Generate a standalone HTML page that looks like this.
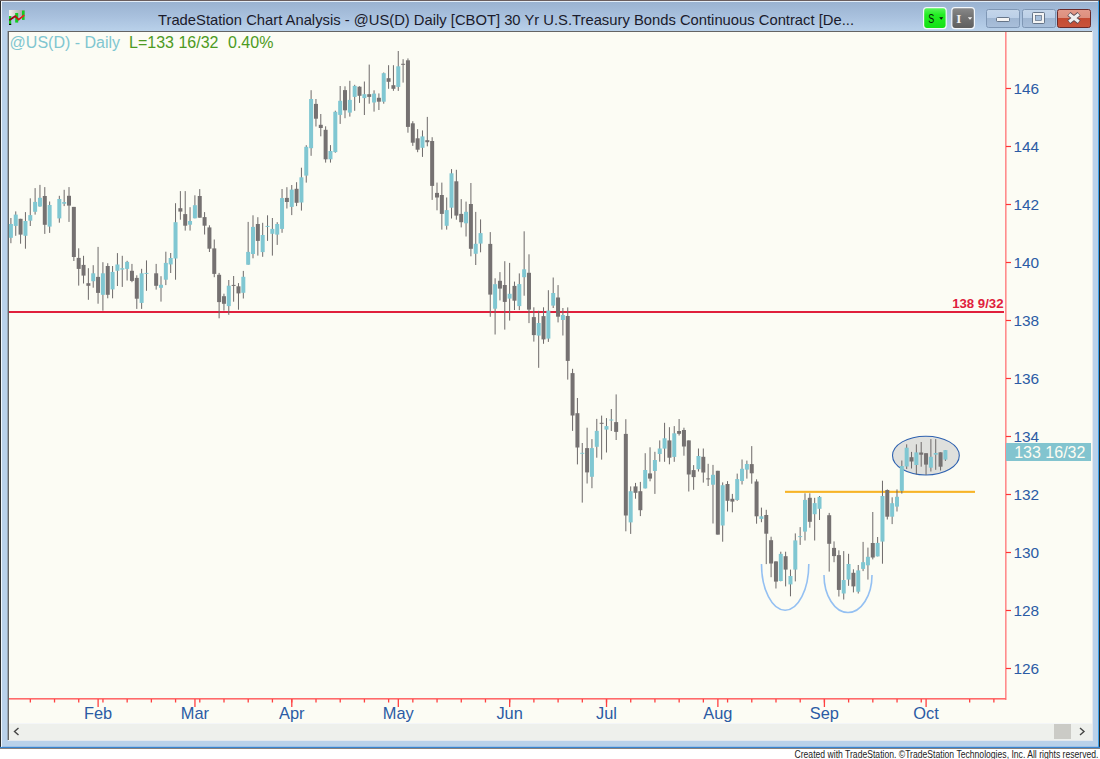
<!DOCTYPE html>
<html><head><meta charset="utf-8"><title>TradeStation Chart</title>
<style>
html,body{margin:0;padding:0;background:#fff;overflow:hidden;}
body{width:1100px;height:759px;font-family:"Liberation Sans", sans-serif;}
svg{display:block;}
</style></head>
<body>
<svg width="1100" height="759" viewBox="0 0 1100 759">
<rect x="0" y="0" width="1100" height="759" fill="#ffffff"/>
<defs><linearGradient id="tb" x1="0" y1="0" x2="0" y2="1"><stop offset="0" stop-color="#98b1cf"/><stop offset="0.55" stop-color="#a9c1de"/><stop offset="1" stop-color="#b9d1ea"/></linearGradient><linearGradient id="cl" x1="0" y1="0" x2="0" y2="1"><stop offset="0" stop-color="#e39a8a"/><stop offset="0.45" stop-color="#dd8f7e"/><stop offset="0.46" stop-color="#c44a32"/><stop offset="1" stop-color="#c8543b"/></linearGradient><linearGradient id="bt" x1="0" y1="0" x2="0" y2="1"><stop offset="0" stop-color="#c5d6ea"/><stop offset="0.45" stop-color="#bcd0e8"/><stop offset="0.46" stop-color="#9fb6d2"/><stop offset="1" stop-color="#a9bfda"/></linearGradient></defs>
<rect x="0" y="0" width="1100" height="748" fill="#b9d1ea"/>
<rect x="0" y="0" width="1100" height="31" fill="url(#tb)"/>
<rect x="0" y="0" width="1" height="748" fill="#2b2b2b"/>
<rect x="0" y="0" width="1100" height="1" fill="#6a5e5e"/>
<rect x="1" y="1" width="1097" height="1" fill="#e4eef8"/>
<rect x="1098" y="1" width="1" height="747" fill="#3ca0e8"/>
<rect x="1099" y="0" width="1" height="748" fill="#2b2b2b"/>
<rect x="0" y="746.8" width="1100" height="1.2" fill="#3784d0"/>
<rect x="0" y="748" width="1100" height="0.8" fill="#6a6260"/>
<rect x="1" y="1" width="1" height="746" fill="#eef5fc"/>
<linearGradient id="ig1" x1="0" y1="0" x2="1" y2="0"><stop offset="0" stop-color="#f2f2ee"/><stop offset="1" stop-color="#9c9c9c"/></linearGradient>
<linearGradient id="rl" x1="0" y1="0" x2="1" y2="0"><stop offset="0" stop-color="#7a0a0a"/><stop offset="0.5" stop-color="#c01010"/><stop offset="1" stop-color="#ff2020"/></linearGradient>
<g><rect x="9" y="10" width="15.6" height="6" fill="url(#ig1)"/><rect x="9" y="16" width="2.2" height="8.5" fill="#12cc22"/><rect x="15.2" y="13" width="3" height="9.6" fill="#12cc22"/><rect x="22" y="10.6" width="2.6" height="9.3" fill="#12cc22"/><polyline points="9.3,20.2 15.2,16.2 18.6,19.6 24.3,15.2" fill="none" stroke="url(#rl)" stroke-width="1.7"/><rect x="9" y="23.8" width="2.2" height="1.2" fill="#0a0a0a"/></g>
<text x="158" y="24.5" font-family="Liberation Sans, sans-serif" font-size="14.6" fill="#1b1b2b" textLength="696" lengthAdjust="spacingAndGlyphs">TradeStation Chart Analysis - @US(D) Daily [CBOT] 30 Yr U.S.Treasury Bonds Continuous Contract [De...</text>
<linearGradient id="sg" x1="0" y1="0" x2="0" y2="1"><stop offset="0" stop-color="#5ef55e"/><stop offset="0.35" stop-color="#22ee22"/><stop offset="1" stop-color="#14e014"/></linearGradient>
<linearGradient id="ig" x1="0" y1="0" x2="0" y2="1"><stop offset="0" stop-color="#8a8a8a"/><stop offset="0.4" stop-color="#747474"/><stop offset="1" stop-color="#5e5e5e"/></linearGradient>
<rect x="923.6" y="7.6" width="22.6" height="21" rx="3" fill="url(#sg)" stroke="#f4f8fc" stroke-width="1.2"/>
<text x="928.3" y="23.2" font-family="Liberation Sans, sans-serif" font-size="12.5" fill="#061806" textLength="6" lengthAdjust="spacingAndGlyphs">S</text>
<path d="M939.2 17.3 l4 0 l-2 2.4z" fill="#061806"/>
<rect x="951.8" y="7.6" width="22.6" height="21" rx="3" fill="url(#ig)" stroke="#f4f8fc" stroke-width="1.2"/>
<text x="956.3" y="22.8" font-family="Liberation Serif, serif" font-size="13" font-weight="bold" fill="#f2f2f2">I</text>
<path d="M967.8 17.3 l4.4 0 l-2.2 2.4z" fill="#f2f2f2"/>
<rect x="986.5" y="9.5" width="33" height="18" rx="2" fill="url(#bt)" stroke="#7f97b5" stroke-width="1"/>
<rect x="996.5" y="17.5" width="13" height="4" rx="1" fill="#f4f4f4" stroke="#4a5a70" stroke-width="0.8"/>
<rect x="1022.5" y="9.5" width="33" height="18" rx="2" fill="url(#bt)" stroke="#7f97b5" stroke-width="1"/>
<rect x="1032.5" y="12.5" width="12" height="11" rx="1" fill="#f4f4f4" stroke="#4a5a70" stroke-width="0.8"/>
<rect x="1035.5" y="15.5" width="6" height="5" fill="#a8c0dc" stroke="#4a5a70" stroke-width="0.6"/>
<rect x="1057.5" y="9.5" width="33" height="18" rx="2" fill="url(#cl)" stroke="#6a2a2a" stroke-width="1"/>
<path d="M1068.9 13.9 L1079.1 22.1 M1079.1 13.9 L1068.9 22.1" stroke="#5a4a52" stroke-width="5.0" stroke-linecap="butt"/>
<path d="M1069.2 14.2 L1078.8 21.8 M1078.8 14.2 L1069.2 21.8" stroke="#f0f0f0" stroke-width="3.2" stroke-linecap="butt"/>
<rect x="8" y="31" width="1085" height="710" fill="#e4e8ee"/>
<rect x="7.6" y="31" width="1084.4" height="709" fill="#646464"/>
<rect x="9" y="32" width="1083" height="708" fill="#fcfcf4"/>
<rect x="9" y="723" width="1083" height="17" fill="#eef0ec"/>
<rect x="9" y="723" width="1083" height="1" fill="#f4f6f8"/>
<rect x="1054" y="724" width="17" height="15" fill="#cbcbc6"/>
<path d="M18.5 728 L14.5 731.5 L18.5 735" fill="none" stroke="#444" stroke-width="1.4"/>
<path d="M1080 728 L1084 731.5 L1080 735" fill="none" stroke="#444" stroke-width="1.4"/>
<rect x="1005" y="32" width="1.6" height="668" fill="#ff8c8c"/>
<rect x="9" y="698" width="997" height="1.6" fill="#ff6a6a"/>
<rect x="1006" y="667.90" width="5" height="1.2" fill="#f33"/>
<text x="1013.4" y="674.00" font-family="Liberation Sans, sans-serif" font-size="15.4" fill="#2b5ba4">126</text>
<rect x="1006" y="609.90" width="5" height="1.2" fill="#f33"/>
<text x="1013.4" y="616.00" font-family="Liberation Sans, sans-serif" font-size="15.4" fill="#2b5ba4">128</text>
<rect x="1006" y="551.90" width="5" height="1.2" fill="#f33"/>
<text x="1013.4" y="558.00" font-family="Liberation Sans, sans-serif" font-size="15.4" fill="#2b5ba4">130</text>
<rect x="1006" y="493.90" width="5" height="1.2" fill="#f33"/>
<text x="1013.4" y="500.00" font-family="Liberation Sans, sans-serif" font-size="15.4" fill="#2b5ba4">132</text>
<rect x="1006" y="435.90" width="5" height="1.2" fill="#f33"/>
<text x="1013.4" y="442.00" font-family="Liberation Sans, sans-serif" font-size="15.4" fill="#2b5ba4">134</text>
<rect x="1006" y="377.90" width="5" height="1.2" fill="#f33"/>
<text x="1013.4" y="384.00" font-family="Liberation Sans, sans-serif" font-size="15.4" fill="#2b5ba4">136</text>
<rect x="1006" y="319.90" width="5" height="1.2" fill="#f33"/>
<text x="1013.4" y="326.00" font-family="Liberation Sans, sans-serif" font-size="15.4" fill="#2b5ba4">138</text>
<rect x="1006" y="261.90" width="5" height="1.2" fill="#f33"/>
<text x="1013.4" y="268.00" font-family="Liberation Sans, sans-serif" font-size="15.4" fill="#2b5ba4">140</text>
<rect x="1006" y="203.90" width="5" height="1.2" fill="#f33"/>
<text x="1013.4" y="210.00" font-family="Liberation Sans, sans-serif" font-size="15.4" fill="#2b5ba4">142</text>
<rect x="1006" y="145.90" width="5" height="1.2" fill="#f33"/>
<text x="1013.4" y="152.00" font-family="Liberation Sans, sans-serif" font-size="15.4" fill="#2b5ba4">144</text>
<rect x="1006" y="87.90" width="5" height="1.2" fill="#f33"/>
<text x="1013.4" y="94.00" font-family="Liberation Sans, sans-serif" font-size="15.4" fill="#2b5ba4">146</text>
<rect x="29.67" y="699" width="1.3" height="3.5" fill="#ff4040"/>
<rect x="53.88" y="699" width="1.3" height="3.5" fill="#ff4040"/>
<rect x="78.09" y="699" width="1.3" height="3.5" fill="#ff4040"/>
<rect x="97.46" y="699" width="1.3" height="8" fill="#ff4040"/>
<rect x="102.30" y="699" width="1.3" height="3.5" fill="#ff4040"/>
<rect x="126.51" y="699" width="1.3" height="3.5" fill="#ff4040"/>
<rect x="150.72" y="699" width="1.3" height="3.5" fill="#ff4040"/>
<rect x="174.93" y="699" width="1.3" height="3.5" fill="#ff4040"/>
<rect x="194.30" y="699" width="1.3" height="8" fill="#ff4040"/>
<rect x="199.14" y="699" width="1.3" height="3.5" fill="#ff4040"/>
<rect x="223.35" y="699" width="1.3" height="3.5" fill="#ff4040"/>
<rect x="247.56" y="699" width="1.3" height="3.5" fill="#ff4040"/>
<rect x="271.77" y="699" width="1.3" height="3.5" fill="#ff4040"/>
<rect x="291.14" y="699" width="1.3" height="8" fill="#ff4040"/>
<rect x="291.14" y="699" width="1.3" height="3.5" fill="#ff4040"/>
<rect x="315.35" y="699" width="1.3" height="3.5" fill="#ff4040"/>
<rect x="339.56" y="699" width="1.3" height="3.5" fill="#ff4040"/>
<rect x="363.77" y="699" width="1.3" height="3.5" fill="#ff4040"/>
<rect x="387.98" y="699" width="1.3" height="3.5" fill="#ff4040"/>
<rect x="397.66" y="699" width="1.3" height="8" fill="#ff4040"/>
<rect x="412.19" y="699" width="1.3" height="3.5" fill="#ff4040"/>
<rect x="436.40" y="699" width="1.3" height="3.5" fill="#ff4040"/>
<rect x="460.61" y="699" width="1.3" height="3.5" fill="#ff4040"/>
<rect x="484.82" y="699" width="1.3" height="3.5" fill="#ff4040"/>
<rect x="509.03" y="699" width="1.3" height="8" fill="#ff4040"/>
<rect x="509.03" y="699" width="1.3" height="3.5" fill="#ff4040"/>
<rect x="533.24" y="699" width="1.3" height="3.5" fill="#ff4040"/>
<rect x="557.45" y="699" width="1.3" height="3.5" fill="#ff4040"/>
<rect x="581.66" y="699" width="1.3" height="3.5" fill="#ff4040"/>
<rect x="605.87" y="699" width="1.3" height="8" fill="#ff4040"/>
<rect x="605.87" y="699" width="1.3" height="3.5" fill="#ff4040"/>
<rect x="630.08" y="699" width="1.3" height="3.5" fill="#ff4040"/>
<rect x="654.29" y="699" width="1.3" height="3.5" fill="#ff4040"/>
<rect x="678.50" y="699" width="1.3" height="3.5" fill="#ff4040"/>
<rect x="702.71" y="699" width="1.3" height="3.5" fill="#ff4040"/>
<rect x="717.23" y="699" width="1.3" height="8" fill="#ff4040"/>
<rect x="726.92" y="699" width="1.3" height="3.5" fill="#ff4040"/>
<rect x="751.13" y="699" width="1.3" height="3.5" fill="#ff4040"/>
<rect x="775.34" y="699" width="1.3" height="3.5" fill="#ff4040"/>
<rect x="799.55" y="699" width="1.3" height="3.5" fill="#ff4040"/>
<rect x="823.76" y="699" width="1.3" height="8" fill="#ff4040"/>
<rect x="823.76" y="699" width="1.3" height="3.5" fill="#ff4040"/>
<rect x="847.97" y="699" width="1.3" height="3.5" fill="#ff4040"/>
<rect x="872.18" y="699" width="1.3" height="3.5" fill="#ff4040"/>
<rect x="896.39" y="699" width="1.3" height="3.5" fill="#ff4040"/>
<rect x="920.60" y="699" width="1.3" height="3.5" fill="#ff4040"/>
<rect x="925.44" y="699" width="1.3" height="8" fill="#ff4040"/>
<rect x="969.02" y="699" width="1.3" height="3.5" fill="#ff4040"/>
<rect x="993.23" y="699" width="1.3" height="3.5" fill="#ff4040"/>
<text x="98.06" y="719.3" text-anchor="middle" font-family="Liberation Sans, sans-serif" font-size="16.4" fill="#2b5ba4">Feb</text>
<text x="194.90" y="719.3" text-anchor="middle" font-family="Liberation Sans, sans-serif" font-size="16.4" fill="#2b5ba4">Mar</text>
<text x="291.74" y="719.3" text-anchor="middle" font-family="Liberation Sans, sans-serif" font-size="16.4" fill="#2b5ba4">Apr</text>
<text x="398.26" y="719.3" text-anchor="middle" font-family="Liberation Sans, sans-serif" font-size="16.4" fill="#2b5ba4">May</text>
<text x="509.63" y="719.3" text-anchor="middle" font-family="Liberation Sans, sans-serif" font-size="16.4" fill="#2b5ba4">Jun</text>
<text x="606.47" y="719.3" text-anchor="middle" font-family="Liberation Sans, sans-serif" font-size="16.4" fill="#2b5ba4">Jul</text>
<text x="717.83" y="719.3" text-anchor="middle" font-family="Liberation Sans, sans-serif" font-size="16.4" fill="#2b5ba4">Aug</text>
<text x="824.36" y="719.3" text-anchor="middle" font-family="Liberation Sans, sans-serif" font-size="16.4" fill="#2b5ba4">Sep</text>
<text x="926.04" y="719.3" text-anchor="middle" font-family="Liberation Sans, sans-serif" font-size="16.4" fill="#2b5ba4">Oct</text>
<text x="9.6" y="48" font-family="Liberation Sans, sans-serif" font-size="16" fill="#80c6d0">@US(D) - Daily</text>
<text x="129" y="48" font-family="Liberation Sans, sans-serif" font-size="16" fill="#4c9a22">L=133 16/32</text>
<text x="228" y="48" font-family="Liberation Sans, sans-serif" font-size="16" fill="#4c9a22">0.40%</text>
<rect x="9" y="311" width="995" height="2" fill="#e0203c"/>
<text x="1003.5" y="308" text-anchor="end" font-family="Liberation Sans, sans-serif" font-size="13.2" font-weight="bold" fill="#e0203c">138 9/32</text>
<rect x="785" y="490.8" width="190" height="2.1" fill="#f7b427"/>
<ellipse cx="925.9" cy="455.6" rx="33.4" ry="19.4" fill="#dfe0dd" stroke="#2f62b0" stroke-width="1.1"/>
<path d="M761.5 564 A23.5 46 0 0 0 808.8 564" fill="none" stroke="#94c0f2" stroke-width="1.6"/>
<path d="M824 575 A24 37.5 0 0 0 872 575" fill="none" stroke="#94c0f2" stroke-width="1.6"/>
<rect x="10.40" y="218.0" width="1" height="25.2" fill="#6e6a6a"/>
<rect x="8.90" y="224.0" width="4" height="13.8" fill="#80c7d2"/>
<rect x="15.24" y="211.4" width="1" height="24.4" fill="#6e6a6a"/>
<rect x="13.74" y="214.6" width="4" height="11.3" fill="#80c7d2"/>
<rect x="20.08" y="218.8" width="1" height="24.9" fill="#6e6a6a"/>
<rect x="18.58" y="218.8" width="4" height="15.8" fill="#757171"/>
<rect x="24.93" y="212.1" width="1" height="36.6" fill="#6e6a6a"/>
<rect x="23.43" y="221.0" width="4" height="14.8" fill="#80c7d2"/>
<rect x="29.77" y="198.3" width="1" height="27.7" fill="#6e6a6a"/>
<rect x="28.27" y="215.1" width="4" height="5.6" fill="#80c7d2"/>
<rect x="34.61" y="188.1" width="1" height="26.5" fill="#6e6a6a"/>
<rect x="33.11" y="201.9" width="4" height="9.9" fill="#80c7d2"/>
<rect x="39.45" y="184.9" width="1" height="21.8" fill="#6e6a6a"/>
<rect x="37.95" y="197.8" width="4" height="8.7" fill="#80c7d2"/>
<rect x="44.29" y="187.1" width="1" height="46.8" fill="#6e6a6a"/>
<rect x="42.79" y="196.0" width="4" height="28.8" fill="#757171"/>
<rect x="49.14" y="201.5" width="1" height="31.4" fill="#6e6a6a"/>
<rect x="47.64" y="205.0" width="4" height="21.6" fill="#80c7d2"/>
<rect x="58.82" y="195.8" width="1" height="26.9" fill="#6e6a6a"/>
<rect x="57.32" y="199.0" width="4" height="19.4" fill="#80c7d2"/>
<rect x="63.66" y="189.8" width="1" height="16.3" fill="#6e6a6a"/>
<rect x="62.16" y="202.1" width="4" height="1.6" fill="#80c7d2"/>
<rect x="68.50" y="187.1" width="1" height="34.8" fill="#6e6a6a"/>
<rect x="67.00" y="195.8" width="4" height="9.8" fill="#757171"/>
<rect x="73.35" y="206.9" width="1" height="54.1" fill="#6e6a6a"/>
<rect x="71.85" y="206.9" width="4" height="50.1" fill="#757171"/>
<rect x="78.19" y="248.3" width="1" height="37.3" fill="#6e6a6a"/>
<rect x="76.69" y="257.9" width="4" height="11.0" fill="#757171"/>
<rect x="83.03" y="255.8" width="1" height="27.7" fill="#6e6a6a"/>
<rect x="81.53" y="264.9" width="4" height="10.7" fill="#757171"/>
<rect x="87.87" y="268.2" width="1" height="31.6" fill="#6e6a6a"/>
<rect x="86.37" y="283.2" width="4" height="2.6" fill="#757171"/>
<rect x="92.71" y="265.2" width="1" height="22.5" fill="#6e6a6a"/>
<rect x="91.21" y="273.3" width="4" height="7.9" fill="#80c7d2"/>
<rect x="97.56" y="246.9" width="1" height="56.8" fill="#6e6a6a"/>
<rect x="96.06" y="276.9" width="4" height="16.0" fill="#757171"/>
<rect x="102.40" y="262.2" width="1" height="48.5" fill="#6e6a6a"/>
<rect x="100.90" y="273.3" width="4" height="21.5" fill="#80c7d2"/>
<rect x="107.24" y="263.2" width="1" height="35.1" fill="#6e6a6a"/>
<rect x="105.74" y="266.0" width="4" height="28.8" fill="#757171"/>
<rect x="112.08" y="266.0" width="1" height="32.3" fill="#6e6a6a"/>
<rect x="110.58" y="271.9" width="4" height="17.5" fill="#80c7d2"/>
<rect x="116.92" y="253.1" width="1" height="32.9" fill="#6e6a6a"/>
<rect x="115.42" y="264.5" width="4" height="6.3" fill="#80c7d2"/>
<rect x="121.77" y="255.8" width="1" height="31.1" fill="#6e6a6a"/>
<rect x="120.27" y="268.2" width="4" height="1.4" fill="#80c7d2"/>
<rect x="126.61" y="260.8" width="1" height="19.7" fill="#6e6a6a"/>
<rect x="125.11" y="261.9" width="4" height="7.0" fill="#80c7d2"/>
<rect x="131.45" y="263.9" width="1" height="18.3" fill="#6e6a6a"/>
<rect x="129.95" y="270.8" width="4" height="10.1" fill="#757171"/>
<rect x="136.29" y="275.3" width="1" height="33.6" fill="#6e6a6a"/>
<rect x="134.79" y="277.9" width="4" height="20.8" fill="#757171"/>
<rect x="141.13" y="268.8" width="1" height="40.1" fill="#6e6a6a"/>
<rect x="139.63" y="273.3" width="4" height="29.6" fill="#80c7d2"/>
<rect x="145.98" y="260.4" width="1" height="30.4" fill="#6e6a6a"/>
<rect x="144.48" y="272.9" width="4" height="1.0" fill="#80c7d2"/>
<rect x="155.66" y="263.9" width="1" height="25.7" fill="#6e6a6a"/>
<rect x="154.16" y="273.3" width="4" height="12.5" fill="#757171"/>
<rect x="160.50" y="276.2" width="1" height="25.4" fill="#6e6a6a"/>
<rect x="159.00" y="284.8" width="4" height="3.0" fill="#80c7d2"/>
<rect x="165.34" y="251.7" width="1" height="33.4" fill="#6e6a6a"/>
<rect x="163.84" y="262.9" width="4" height="16.8" fill="#80c7d2"/>
<rect x="170.19" y="253.0" width="1" height="20.0" fill="#6e6a6a"/>
<rect x="168.69" y="258.0" width="4" height="6.4" fill="#80c7d2"/>
<rect x="175.03" y="203.2" width="1" height="76.5" fill="#6e6a6a"/>
<rect x="173.53" y="222.2" width="4" height="36.3" fill="#80c7d2"/>
<rect x="179.87" y="191.1" width="1" height="28.6" fill="#6e6a6a"/>
<rect x="178.37" y="208.2" width="4" height="3.4" fill="#757171"/>
<rect x="184.71" y="191.1" width="1" height="39.5" fill="#6e6a6a"/>
<rect x="183.21" y="214.1" width="4" height="11.6" fill="#757171"/>
<rect x="189.55" y="207.2" width="1" height="23.4" fill="#6e6a6a"/>
<rect x="188.05" y="221.0" width="4" height="3.7" fill="#80c7d2"/>
<rect x="194.40" y="195.3" width="1" height="23.0" fill="#6e6a6a"/>
<rect x="192.90" y="205.2" width="4" height="13.1" fill="#80c7d2"/>
<rect x="199.24" y="189.1" width="1" height="28.6" fill="#6e6a6a"/>
<rect x="197.74" y="196.0" width="4" height="21.7" fill="#757171"/>
<rect x="204.08" y="212.1" width="1" height="22.4" fill="#6e6a6a"/>
<rect x="202.58" y="217.1" width="4" height="8.6" fill="#757171"/>
<rect x="208.92" y="225.3" width="1" height="26.7" fill="#6e6a6a"/>
<rect x="207.42" y="227.4" width="4" height="21.3" fill="#757171"/>
<rect x="213.76" y="239.5" width="1" height="37.7" fill="#6e6a6a"/>
<rect x="212.26" y="248.4" width="4" height="25.5" fill="#757171"/>
<rect x="218.61" y="272.9" width="1" height="45.4" fill="#6e6a6a"/>
<rect x="217.11" y="274.8" width="4" height="27.3" fill="#757171"/>
<rect x="223.45" y="293.7" width="1" height="16.9" fill="#6e6a6a"/>
<rect x="221.95" y="296.2" width="4" height="7.6" fill="#757171"/>
<rect x="228.29" y="280.0" width="1" height="34.8" fill="#6e6a6a"/>
<rect x="226.79" y="285.7" width="4" height="20.4" fill="#80c7d2"/>
<rect x="233.13" y="276.0" width="1" height="25.7" fill="#6e6a6a"/>
<rect x="231.63" y="284.9" width="4" height="1.0" fill="#757171"/>
<rect x="237.97" y="283.1" width="1" height="26.6" fill="#6e6a6a"/>
<rect x="236.47" y="286.3" width="4" height="7.1" fill="#757171"/>
<rect x="242.82" y="270.9" width="1" height="27.6" fill="#6e6a6a"/>
<rect x="241.32" y="276.8" width="4" height="16.0" fill="#80c7d2"/>
<rect x="247.66" y="221.9" width="1" height="42.8" fill="#6e6a6a"/>
<rect x="246.16" y="251.9" width="4" height="12.8" fill="#80c7d2"/>
<rect x="252.50" y="215.3" width="1" height="43.0" fill="#6e6a6a"/>
<rect x="251.00" y="226.9" width="4" height="27.1" fill="#80c7d2"/>
<rect x="257.34" y="217.2" width="1" height="38.4" fill="#6e6a6a"/>
<rect x="255.84" y="224.0" width="4" height="16.9" fill="#757171"/>
<rect x="262.18" y="222.8" width="1" height="34.0" fill="#6e6a6a"/>
<rect x="260.68" y="235.0" width="4" height="17.1" fill="#80c7d2"/>
<rect x="267.03" y="215.3" width="1" height="25.6" fill="#6e6a6a"/>
<rect x="265.53" y="225.9" width="4" height="1.0" fill="#80c7d2"/>
<rect x="271.87" y="218.0" width="1" height="37.6" fill="#6e6a6a"/>
<rect x="270.37" y="228.9" width="4" height="4.9" fill="#80c7d2"/>
<rect x="276.71" y="222.2" width="1" height="22.7" fill="#6e6a6a"/>
<rect x="275.21" y="224.0" width="4" height="10.6" fill="#80c7d2"/>
<rect x="281.55" y="189.0" width="1" height="43.8" fill="#6e6a6a"/>
<rect x="280.05" y="198.1" width="4" height="30.8" fill="#80c7d2"/>
<rect x="286.39" y="187.2" width="1" height="21.3" fill="#6e6a6a"/>
<rect x="284.89" y="197.9" width="4" height="4.1" fill="#757171"/>
<rect x="291.24" y="185.0" width="1" height="30.1" fill="#6e6a6a"/>
<rect x="289.74" y="189.6" width="4" height="17.3" fill="#80c7d2"/>
<rect x="296.08" y="182.2" width="1" height="23.9" fill="#6e6a6a"/>
<rect x="294.58" y="188.8" width="4" height="14.0" fill="#757171"/>
<rect x="300.92" y="167.7" width="1" height="42.9" fill="#6e6a6a"/>
<rect x="299.42" y="177.3" width="4" height="25.2" fill="#80c7d2"/>
<rect x="305.76" y="145.2" width="1" height="37.4" fill="#6e6a6a"/>
<rect x="304.26" y="146.8" width="4" height="28.8" fill="#80c7d2"/>
<rect x="310.60" y="90.2" width="1" height="65.6" fill="#6e6a6a"/>
<rect x="309.10" y="99.0" width="4" height="49.2" fill="#80c7d2"/>
<rect x="315.45" y="99.0" width="1" height="27.5" fill="#6e6a6a"/>
<rect x="313.95" y="103.9" width="4" height="14.8" fill="#757171"/>
<rect x="320.29" y="114.0" width="1" height="22.3" fill="#6e6a6a"/>
<rect x="318.79" y="124.8" width="4" height="3.2" fill="#757171"/>
<rect x="325.13" y="126.3" width="1" height="36.3" fill="#6e6a6a"/>
<rect x="323.63" y="129.8" width="4" height="29.5" fill="#757171"/>
<rect x="329.97" y="145.1" width="1" height="17.5" fill="#6e6a6a"/>
<rect x="328.47" y="151.0" width="4" height="8.3" fill="#80c7d2"/>
<rect x="334.81" y="110.7" width="1" height="42.0" fill="#6e6a6a"/>
<rect x="333.31" y="111.8" width="4" height="40.3" fill="#80c7d2"/>
<rect x="339.66" y="86.0" width="1" height="37.9" fill="#6e6a6a"/>
<rect x="338.16" y="100.8" width="4" height="14.1" fill="#80c7d2"/>
<rect x="344.50" y="86.3" width="1" height="31.9" fill="#6e6a6a"/>
<rect x="343.00" y="90.1" width="4" height="20.2" fill="#757171"/>
<rect x="349.34" y="80.8" width="1" height="35.8" fill="#6e6a6a"/>
<rect x="347.84" y="99.9" width="4" height="12.7" fill="#80c7d2"/>
<rect x="354.18" y="84.8" width="1" height="26.0" fill="#6e6a6a"/>
<rect x="352.68" y="85.9" width="4" height="11.0" fill="#80c7d2"/>
<rect x="359.02" y="86.3" width="1" height="16.6" fill="#6e6a6a"/>
<rect x="357.52" y="86.7" width="4" height="9.1" fill="#757171"/>
<rect x="363.87" y="81.5" width="1" height="33.5" fill="#6e6a6a"/>
<rect x="362.37" y="94.2" width="4" height="3.9" fill="#80c7d2"/>
<rect x="368.71" y="64.6" width="1" height="39.1" fill="#6e6a6a"/>
<rect x="367.21" y="94.2" width="4" height="2.7" fill="#757171"/>
<rect x="373.55" y="90.3" width="1" height="21.3" fill="#6e6a6a"/>
<rect x="372.05" y="93.6" width="4" height="8.9" fill="#80c7d2"/>
<rect x="378.39" y="93.4" width="1" height="16.6" fill="#6e6a6a"/>
<rect x="376.89" y="97.8" width="4" height="3.9" fill="#757171"/>
<rect x="383.23" y="72.5" width="1" height="31.2" fill="#6e6a6a"/>
<rect x="381.73" y="73.2" width="4" height="28.5" fill="#80c7d2"/>
<rect x="388.08" y="65.2" width="1" height="23.6" fill="#6e6a6a"/>
<rect x="386.58" y="78.2" width="4" height="3.6" fill="#757171"/>
<rect x="392.92" y="65.2" width="1" height="25.6" fill="#6e6a6a"/>
<rect x="391.42" y="85.2" width="4" height="3.6" fill="#757171"/>
<rect x="397.76" y="51.0" width="1" height="39.9" fill="#6e6a6a"/>
<rect x="396.26" y="66.3" width="4" height="20.6" fill="#80c7d2"/>
<rect x="402.60" y="59.2" width="1" height="23.4" fill="#6e6a6a"/>
<rect x="401.10" y="63.8" width="4" height="1.0" fill="#757171"/>
<rect x="407.44" y="58.4" width="1" height="74.3" fill="#6e6a6a"/>
<rect x="405.94" y="60.3" width="4" height="66.6" fill="#757171"/>
<rect x="412.29" y="121.2" width="1" height="24.7" fill="#6e6a6a"/>
<rect x="410.79" y="123.3" width="4" height="19.4" fill="#757171"/>
<rect x="417.13" y="129.1" width="1" height="23.1" fill="#6e6a6a"/>
<rect x="415.63" y="138.3" width="4" height="11.4" fill="#757171"/>
<rect x="421.97" y="130.4" width="1" height="26.5" fill="#6e6a6a"/>
<rect x="420.47" y="136.4" width="4" height="11.4" fill="#80c7d2"/>
<rect x="426.81" y="116.9" width="1" height="29.4" fill="#6e6a6a"/>
<rect x="425.31" y="140.2" width="4" height="2.0" fill="#757171"/>
<rect x="431.65" y="137.2" width="1" height="62.7" fill="#6e6a6a"/>
<rect x="430.15" y="141.0" width="4" height="44.9" fill="#757171"/>
<rect x="436.50" y="182.6" width="1" height="27.7" fill="#6e6a6a"/>
<rect x="435.00" y="192.9" width="4" height="4.6" fill="#757171"/>
<rect x="441.34" y="182.6" width="1" height="47.0" fill="#6e6a6a"/>
<rect x="439.84" y="195.0" width="4" height="18.9" fill="#757171"/>
<rect x="446.18" y="197.5" width="1" height="32.1" fill="#6e6a6a"/>
<rect x="444.68" y="210.1" width="4" height="15.7" fill="#80c7d2"/>
<rect x="451.02" y="169.1" width="1" height="49.4" fill="#6e6a6a"/>
<rect x="449.52" y="173.3" width="4" height="34.4" fill="#80c7d2"/>
<rect x="455.86" y="169.8" width="1" height="49.9" fill="#6e6a6a"/>
<rect x="454.36" y="181.3" width="4" height="34.3" fill="#757171"/>
<rect x="460.71" y="199.1" width="1" height="28.3" fill="#6e6a6a"/>
<rect x="459.21" y="213.9" width="4" height="8.3" fill="#757171"/>
<rect x="465.55" y="201.6" width="1" height="34.9" fill="#6e6a6a"/>
<rect x="464.05" y="211.8" width="4" height="11.5" fill="#80c7d2"/>
<rect x="470.39" y="183.0" width="1" height="73.3" fill="#6e6a6a"/>
<rect x="468.89" y="204.0" width="4" height="44.8" fill="#757171"/>
<rect x="475.23" y="211.9" width="1" height="53.1" fill="#6e6a6a"/>
<rect x="473.73" y="243.8" width="4" height="10.0" fill="#80c7d2"/>
<rect x="480.07" y="219.4" width="1" height="32.9" fill="#6e6a6a"/>
<rect x="478.57" y="233.1" width="4" height="10.5" fill="#80c7d2"/>
<rect x="489.76" y="232.1" width="1" height="84.7" fill="#6e6a6a"/>
<rect x="488.26" y="243.9" width="4" height="50.7" fill="#757171"/>
<rect x="494.60" y="278.3" width="1" height="56.2" fill="#6e6a6a"/>
<rect x="493.10" y="284.2" width="4" height="24.5" fill="#80c7d2"/>
<rect x="499.44" y="272.1" width="1" height="28.3" fill="#6e6a6a"/>
<rect x="497.94" y="280.8" width="4" height="7.8" fill="#757171"/>
<rect x="504.28" y="261.2" width="1" height="68.4" fill="#6e6a6a"/>
<rect x="502.78" y="285.0" width="4" height="16.9" fill="#757171"/>
<rect x="509.13" y="262.9" width="1" height="57.7" fill="#6e6a6a"/>
<rect x="507.63" y="293.8" width="4" height="4.8" fill="#80c7d2"/>
<rect x="513.97" y="281.6" width="1" height="28.4" fill="#6e6a6a"/>
<rect x="512.47" y="285.9" width="4" height="14.8" fill="#757171"/>
<rect x="518.81" y="273.4" width="1" height="36.7" fill="#6e6a6a"/>
<rect x="517.31" y="284.1" width="4" height="22.0" fill="#80c7d2"/>
<rect x="523.65" y="231.3" width="1" height="64.4" fill="#6e6a6a"/>
<rect x="522.15" y="269.3" width="4" height="7.9" fill="#80c7d2"/>
<rect x="528.49" y="254.3" width="1" height="68.8" fill="#6e6a6a"/>
<rect x="526.99" y="272.8" width="4" height="36.8" fill="#757171"/>
<rect x="533.34" y="307.3" width="1" height="34.3" fill="#6e6a6a"/>
<rect x="531.84" y="317.1" width="4" height="18.0" fill="#757171"/>
<rect x="538.18" y="310.8" width="1" height="57.0" fill="#6e6a6a"/>
<rect x="536.68" y="323.0" width="4" height="12.6" fill="#80c7d2"/>
<rect x="543.02" y="307.3" width="1" height="36.5" fill="#6e6a6a"/>
<rect x="541.52" y="316.1" width="4" height="23.3" fill="#757171"/>
<rect x="547.86" y="290.2" width="1" height="51.7" fill="#6e6a6a"/>
<rect x="546.36" y="310.6" width="4" height="28.0" fill="#80c7d2"/>
<rect x="552.70" y="277.5" width="1" height="30.5" fill="#6e6a6a"/>
<rect x="551.20" y="293.0" width="4" height="12.6" fill="#80c7d2"/>
<rect x="557.55" y="285.1" width="1" height="37.3" fill="#6e6a6a"/>
<rect x="556.05" y="297.5" width="4" height="19.2" fill="#757171"/>
<rect x="562.39" y="308.0" width="1" height="27.5" fill="#6e6a6a"/>
<rect x="560.89" y="315.0" width="4" height="5.0" fill="#80c7d2"/>
<rect x="567.23" y="307.4" width="1" height="72.2" fill="#6e6a6a"/>
<rect x="565.73" y="316.0" width="4" height="44.9" fill="#757171"/>
<rect x="572.07" y="368.8" width="1" height="62.1" fill="#6e6a6a"/>
<rect x="570.57" y="373.1" width="4" height="42.4" fill="#757171"/>
<rect x="576.91" y="398.0" width="1" height="66.4" fill="#6e6a6a"/>
<rect x="575.41" y="413.2" width="4" height="34.3" fill="#757171"/>
<rect x="581.76" y="443.0" width="1" height="59.6" fill="#6e6a6a"/>
<rect x="580.26" y="452.8" width="4" height="1.0" fill="#80c7d2"/>
<rect x="586.60" y="427.7" width="1" height="55.8" fill="#6e6a6a"/>
<rect x="585.10" y="448.1" width="4" height="24.3" fill="#757171"/>
<rect x="591.44" y="439.1" width="1" height="49.1" fill="#6e6a6a"/>
<rect x="589.94" y="448.1" width="4" height="28.7" fill="#80c7d2"/>
<rect x="596.28" y="418.9" width="1" height="38.8" fill="#6e6a6a"/>
<rect x="594.78" y="430.9" width="4" height="15.9" fill="#80c7d2"/>
<rect x="601.12" y="415.6" width="1" height="44.0" fill="#6e6a6a"/>
<rect x="599.62" y="422.8" width="4" height="1.0" fill="#757171"/>
<rect x="605.97" y="418.1" width="1" height="34.4" fill="#6e6a6a"/>
<rect x="604.47" y="426.1" width="4" height="3.5" fill="#80c7d2"/>
<rect x="610.81" y="409.0" width="1" height="22.0" fill="#6e6a6a"/>
<rect x="609.31" y="419.5" width="4" height="1.0" fill="#80c7d2"/>
<rect x="615.65" y="394.4" width="1" height="45.6" fill="#6e6a6a"/>
<rect x="614.15" y="422.1" width="4" height="9.8" fill="#757171"/>
<rect x="625.33" y="419.2" width="1" height="112.1" fill="#6e6a6a"/>
<rect x="623.83" y="433.9" width="4" height="81.6" fill="#757171"/>
<rect x="630.18" y="486.4" width="1" height="47.5" fill="#6e6a6a"/>
<rect x="628.68" y="491.2" width="4" height="31.2" fill="#80c7d2"/>
<rect x="635.02" y="482.9" width="1" height="15.8" fill="#6e6a6a"/>
<rect x="633.52" y="486.4" width="4" height="6.4" fill="#757171"/>
<rect x="639.86" y="481.9" width="1" height="34.2" fill="#6e6a6a"/>
<rect x="638.36" y="491.2" width="4" height="19.0" fill="#757171"/>
<rect x="644.70" y="453.2" width="1" height="35.2" fill="#6e6a6a"/>
<rect x="643.20" y="470.0" width="4" height="18.4" fill="#80c7d2"/>
<rect x="649.54" y="447.3" width="1" height="34.0" fill="#6e6a6a"/>
<rect x="648.04" y="473.4" width="4" height="5.2" fill="#757171"/>
<rect x="654.39" y="451.8" width="1" height="42.1" fill="#6e6a6a"/>
<rect x="652.89" y="460.0" width="4" height="11.0" fill="#80c7d2"/>
<rect x="659.23" y="440.4" width="1" height="21.3" fill="#6e6a6a"/>
<rect x="657.73" y="448.5" width="4" height="5.5" fill="#80c7d2"/>
<rect x="664.07" y="422.8" width="1" height="39.0" fill="#6e6a6a"/>
<rect x="662.57" y="438.3" width="4" height="10.3" fill="#80c7d2"/>
<rect x="668.91" y="427.2" width="1" height="37.1" fill="#6e6a6a"/>
<rect x="667.41" y="440.4" width="4" height="17.3" fill="#757171"/>
<rect x="673.75" y="426.1" width="1" height="35.7" fill="#6e6a6a"/>
<rect x="672.25" y="433.3" width="4" height="23.6" fill="#80c7d2"/>
<rect x="678.60" y="419.0" width="1" height="16.5" fill="#6e6a6a"/>
<rect x="677.10" y="431.0" width="4" height="2.8" fill="#757171"/>
<rect x="683.44" y="427.7" width="1" height="28.0" fill="#6e6a6a"/>
<rect x="681.94" y="430.0" width="4" height="16.5" fill="#757171"/>
<rect x="688.28" y="440.4" width="1" height="51.1" fill="#6e6a6a"/>
<rect x="686.78" y="440.4" width="4" height="34.1" fill="#757171"/>
<rect x="693.12" y="465.1" width="1" height="24.7" fill="#6e6a6a"/>
<rect x="691.62" y="470.1" width="4" height="7.0" fill="#757171"/>
<rect x="697.96" y="448.5" width="1" height="23.0" fill="#6e6a6a"/>
<rect x="696.46" y="456.0" width="4" height="13.2" fill="#80c7d2"/>
<rect x="702.81" y="448.5" width="1" height="34.1" fill="#6e6a6a"/>
<rect x="701.31" y="456.8" width="4" height="15.7" fill="#757171"/>
<rect x="707.65" y="463.8" width="1" height="22.2" fill="#6e6a6a"/>
<rect x="706.15" y="478.4" width="4" height="1.0" fill="#757171"/>
<rect x="712.49" y="464.9" width="1" height="58.6" fill="#6e6a6a"/>
<rect x="710.99" y="474.8" width="4" height="9.9" fill="#80c7d2"/>
<rect x="717.33" y="470.8" width="1" height="63.8" fill="#6e6a6a"/>
<rect x="715.83" y="470.8" width="4" height="63.8" fill="#757171"/>
<rect x="722.17" y="482.4" width="1" height="59.3" fill="#6e6a6a"/>
<rect x="720.67" y="485.2" width="4" height="40.3" fill="#80c7d2"/>
<rect x="727.02" y="481.1" width="1" height="30.4" fill="#6e6a6a"/>
<rect x="725.52" y="484.0" width="4" height="16.8" fill="#757171"/>
<rect x="731.86" y="493.9" width="1" height="18.4" fill="#6e6a6a"/>
<rect x="730.36" y="498.8" width="4" height="2.8" fill="#757171"/>
<rect x="736.70" y="473.6" width="1" height="27.2" fill="#6e6a6a"/>
<rect x="735.20" y="479.1" width="4" height="20.9" fill="#80c7d2"/>
<rect x="741.54" y="459.5" width="1" height="25.0" fill="#6e6a6a"/>
<rect x="740.04" y="468.8" width="4" height="12.2" fill="#80c7d2"/>
<rect x="746.38" y="460.6" width="1" height="18.0" fill="#6e6a6a"/>
<rect x="744.88" y="464.0" width="4" height="5.6" fill="#80c7d2"/>
<rect x="751.23" y="446.1" width="1" height="37.6" fill="#6e6a6a"/>
<rect x="749.73" y="464.1" width="4" height="9.2" fill="#757171"/>
<rect x="756.07" y="479.3" width="1" height="44.4" fill="#6e6a6a"/>
<rect x="754.57" y="481.5" width="4" height="34.8" fill="#757171"/>
<rect x="760.91" y="507.6" width="1" height="14.6" fill="#6e6a6a"/>
<rect x="759.41" y="516.3" width="4" height="2.6" fill="#80c7d2"/>
<rect x="765.75" y="509.8" width="1" height="54.3" fill="#6e6a6a"/>
<rect x="764.25" y="515.0" width="4" height="18.7" fill="#757171"/>
<rect x="770.59" y="536.7" width="1" height="40.5" fill="#6e6a6a"/>
<rect x="769.09" y="540.2" width="4" height="23.3" fill="#757171"/>
<rect x="775.44" y="561.3" width="1" height="27.2" fill="#6e6a6a"/>
<rect x="773.94" y="561.4" width="4" height="20.2" fill="#757171"/>
<rect x="780.28" y="551.7" width="1" height="29.6" fill="#6e6a6a"/>
<rect x="778.78" y="553.9" width="4" height="27.1" fill="#80c7d2"/>
<rect x="785.12" y="551.7" width="1" height="34.7" fill="#6e6a6a"/>
<rect x="783.62" y="556.2" width="4" height="13.4" fill="#757171"/>
<rect x="789.96" y="569.6" width="1" height="26.7" fill="#6e6a6a"/>
<rect x="788.46" y="576.0" width="4" height="8.4" fill="#80c7d2"/>
<rect x="794.80" y="533.4" width="1" height="48.0" fill="#6e6a6a"/>
<rect x="793.30" y="540.4" width="4" height="29.2" fill="#80c7d2"/>
<rect x="799.65" y="527.1" width="1" height="17.8" fill="#6e6a6a"/>
<rect x="798.15" y="536.1" width="4" height="1.0" fill="#80c7d2"/>
<rect x="804.49" y="493.3" width="1" height="47.2" fill="#6e6a6a"/>
<rect x="802.99" y="499.9" width="4" height="31.7" fill="#80c7d2"/>
<rect x="809.33" y="493.3" width="1" height="34.4" fill="#6e6a6a"/>
<rect x="807.83" y="497.8" width="4" height="24.0" fill="#757171"/>
<rect x="814.17" y="497.8" width="1" height="42.7" fill="#6e6a6a"/>
<rect x="812.67" y="503.1" width="4" height="11.1" fill="#80c7d2"/>
<rect x="819.01" y="496.0" width="1" height="24.0" fill="#6e6a6a"/>
<rect x="817.51" y="496.9" width="4" height="11.9" fill="#80c7d2"/>
<rect x="828.70" y="512.9" width="1" height="58.7" fill="#6e6a6a"/>
<rect x="827.20" y="515.2" width="4" height="28.6" fill="#757171"/>
<rect x="833.54" y="541.4" width="1" height="20.8" fill="#6e6a6a"/>
<rect x="832.04" y="547.9" width="4" height="8.2" fill="#757171"/>
<rect x="838.38" y="550.3" width="1" height="46.2" fill="#6e6a6a"/>
<rect x="836.88" y="555.1" width="4" height="34.8" fill="#757171"/>
<rect x="843.22" y="551.1" width="1" height="48.4" fill="#6e6a6a"/>
<rect x="841.72" y="580.0" width="4" height="13.5" fill="#80c7d2"/>
<rect x="848.07" y="553.8" width="1" height="32.0" fill="#6e6a6a"/>
<rect x="846.57" y="564.0" width="4" height="15.6" fill="#80c7d2"/>
<rect x="852.91" y="569.3" width="1" height="23.1" fill="#6e6a6a"/>
<rect x="851.41" y="572.8" width="4" height="13.6" fill="#757171"/>
<rect x="857.75" y="565.0" width="1" height="28.5" fill="#6e6a6a"/>
<rect x="856.25" y="570.4" width="4" height="21.3" fill="#80c7d2"/>
<rect x="862.59" y="541.9" width="1" height="29.2" fill="#6e6a6a"/>
<rect x="861.09" y="562.2" width="4" height="6.7" fill="#80c7d2"/>
<rect x="867.43" y="547.6" width="1" height="32.0" fill="#6e6a6a"/>
<rect x="865.93" y="556.8" width="4" height="8.5" fill="#80c7d2"/>
<rect x="872.28" y="512.0" width="1" height="47.4" fill="#6e6a6a"/>
<rect x="870.78" y="543.0" width="4" height="14.5" fill="#757171"/>
<rect x="877.12" y="537.0" width="1" height="19.4" fill="#6e6a6a"/>
<rect x="875.62" y="542.9" width="4" height="13.5" fill="#80c7d2"/>
<rect x="881.96" y="480.7" width="1" height="83.0" fill="#6e6a6a"/>
<rect x="880.46" y="496.0" width="4" height="45.6" fill="#80c7d2"/>
<rect x="886.80" y="489.4" width="1" height="30.1" fill="#6e6a6a"/>
<rect x="885.30" y="490.0" width="4" height="26.7" fill="#757171"/>
<rect x="891.64" y="497.3" width="1" height="26.8" fill="#6e6a6a"/>
<rect x="890.14" y="503.2" width="4" height="13.5" fill="#80c7d2"/>
<rect x="896.49" y="489.4" width="1" height="22.1" fill="#6e6a6a"/>
<rect x="894.99" y="496.8" width="4" height="9.8" fill="#80c7d2"/>
<rect x="901.33" y="460.5" width="1" height="33.1" fill="#6e6a6a"/>
<rect x="899.83" y="466.0" width="4" height="24.9" fill="#80c7d2"/>
<rect x="906.17" y="444.3" width="1" height="24.7" fill="#6e6a6a"/>
<rect x="904.67" y="447.7" width="4" height="18.8" fill="#80c7d2"/>
<rect x="911.01" y="451.9" width="1" height="16.6" fill="#6e6a6a"/>
<rect x="909.51" y="457.2" width="4" height="4.3" fill="#757171"/>
<rect x="915.85" y="444.3" width="1" height="30.2" fill="#6e6a6a"/>
<rect x="914.35" y="452.4" width="4" height="12.6" fill="#80c7d2"/>
<rect x="920.70" y="442.0" width="1" height="24.7" fill="#6e6a6a"/>
<rect x="919.20" y="452.5" width="4" height="2.2" fill="#757171"/>
<rect x="925.54" y="453.2" width="1" height="21.7" fill="#6e6a6a"/>
<rect x="924.04" y="453.2" width="4" height="11.4" fill="#757171"/>
<rect x="930.38" y="439.1" width="1" height="32.4" fill="#6e6a6a"/>
<rect x="928.88" y="456.8" width="4" height="10.9" fill="#80c7d2"/>
<rect x="935.22" y="439.1" width="1" height="30.7" fill="#6e6a6a"/>
<rect x="933.72" y="453.0" width="4" height="1.7" fill="#80c7d2"/>
<rect x="940.06" y="452.3" width="1" height="18.2" fill="#6e6a6a"/>
<rect x="938.56" y="452.3" width="4" height="14.4" fill="#757171"/>
<rect x="944.91" y="450.1" width="1" height="10.8" fill="#6e6a6a"/>
<rect x="943.41" y="450.1" width="4" height="9.5" fill="#80c7d2"/>
<rect x="1006" y="443" width="85" height="18" fill="#82c4cf"/>
<text x="1014.2" y="457.6" font-family="Liberation Sans, sans-serif" font-size="16" fill="#fdfcf2">133 16/32</text>
<text x="794.5" y="757.5" font-family="Liberation Sans, sans-serif" font-size="10.6" fill="#222" textLength="304" lengthAdjust="spacingAndGlyphs">Created with TradeStation. ©TradeStation Technologies, Inc. All rights reserved.</text>
</svg>
</body></html>
